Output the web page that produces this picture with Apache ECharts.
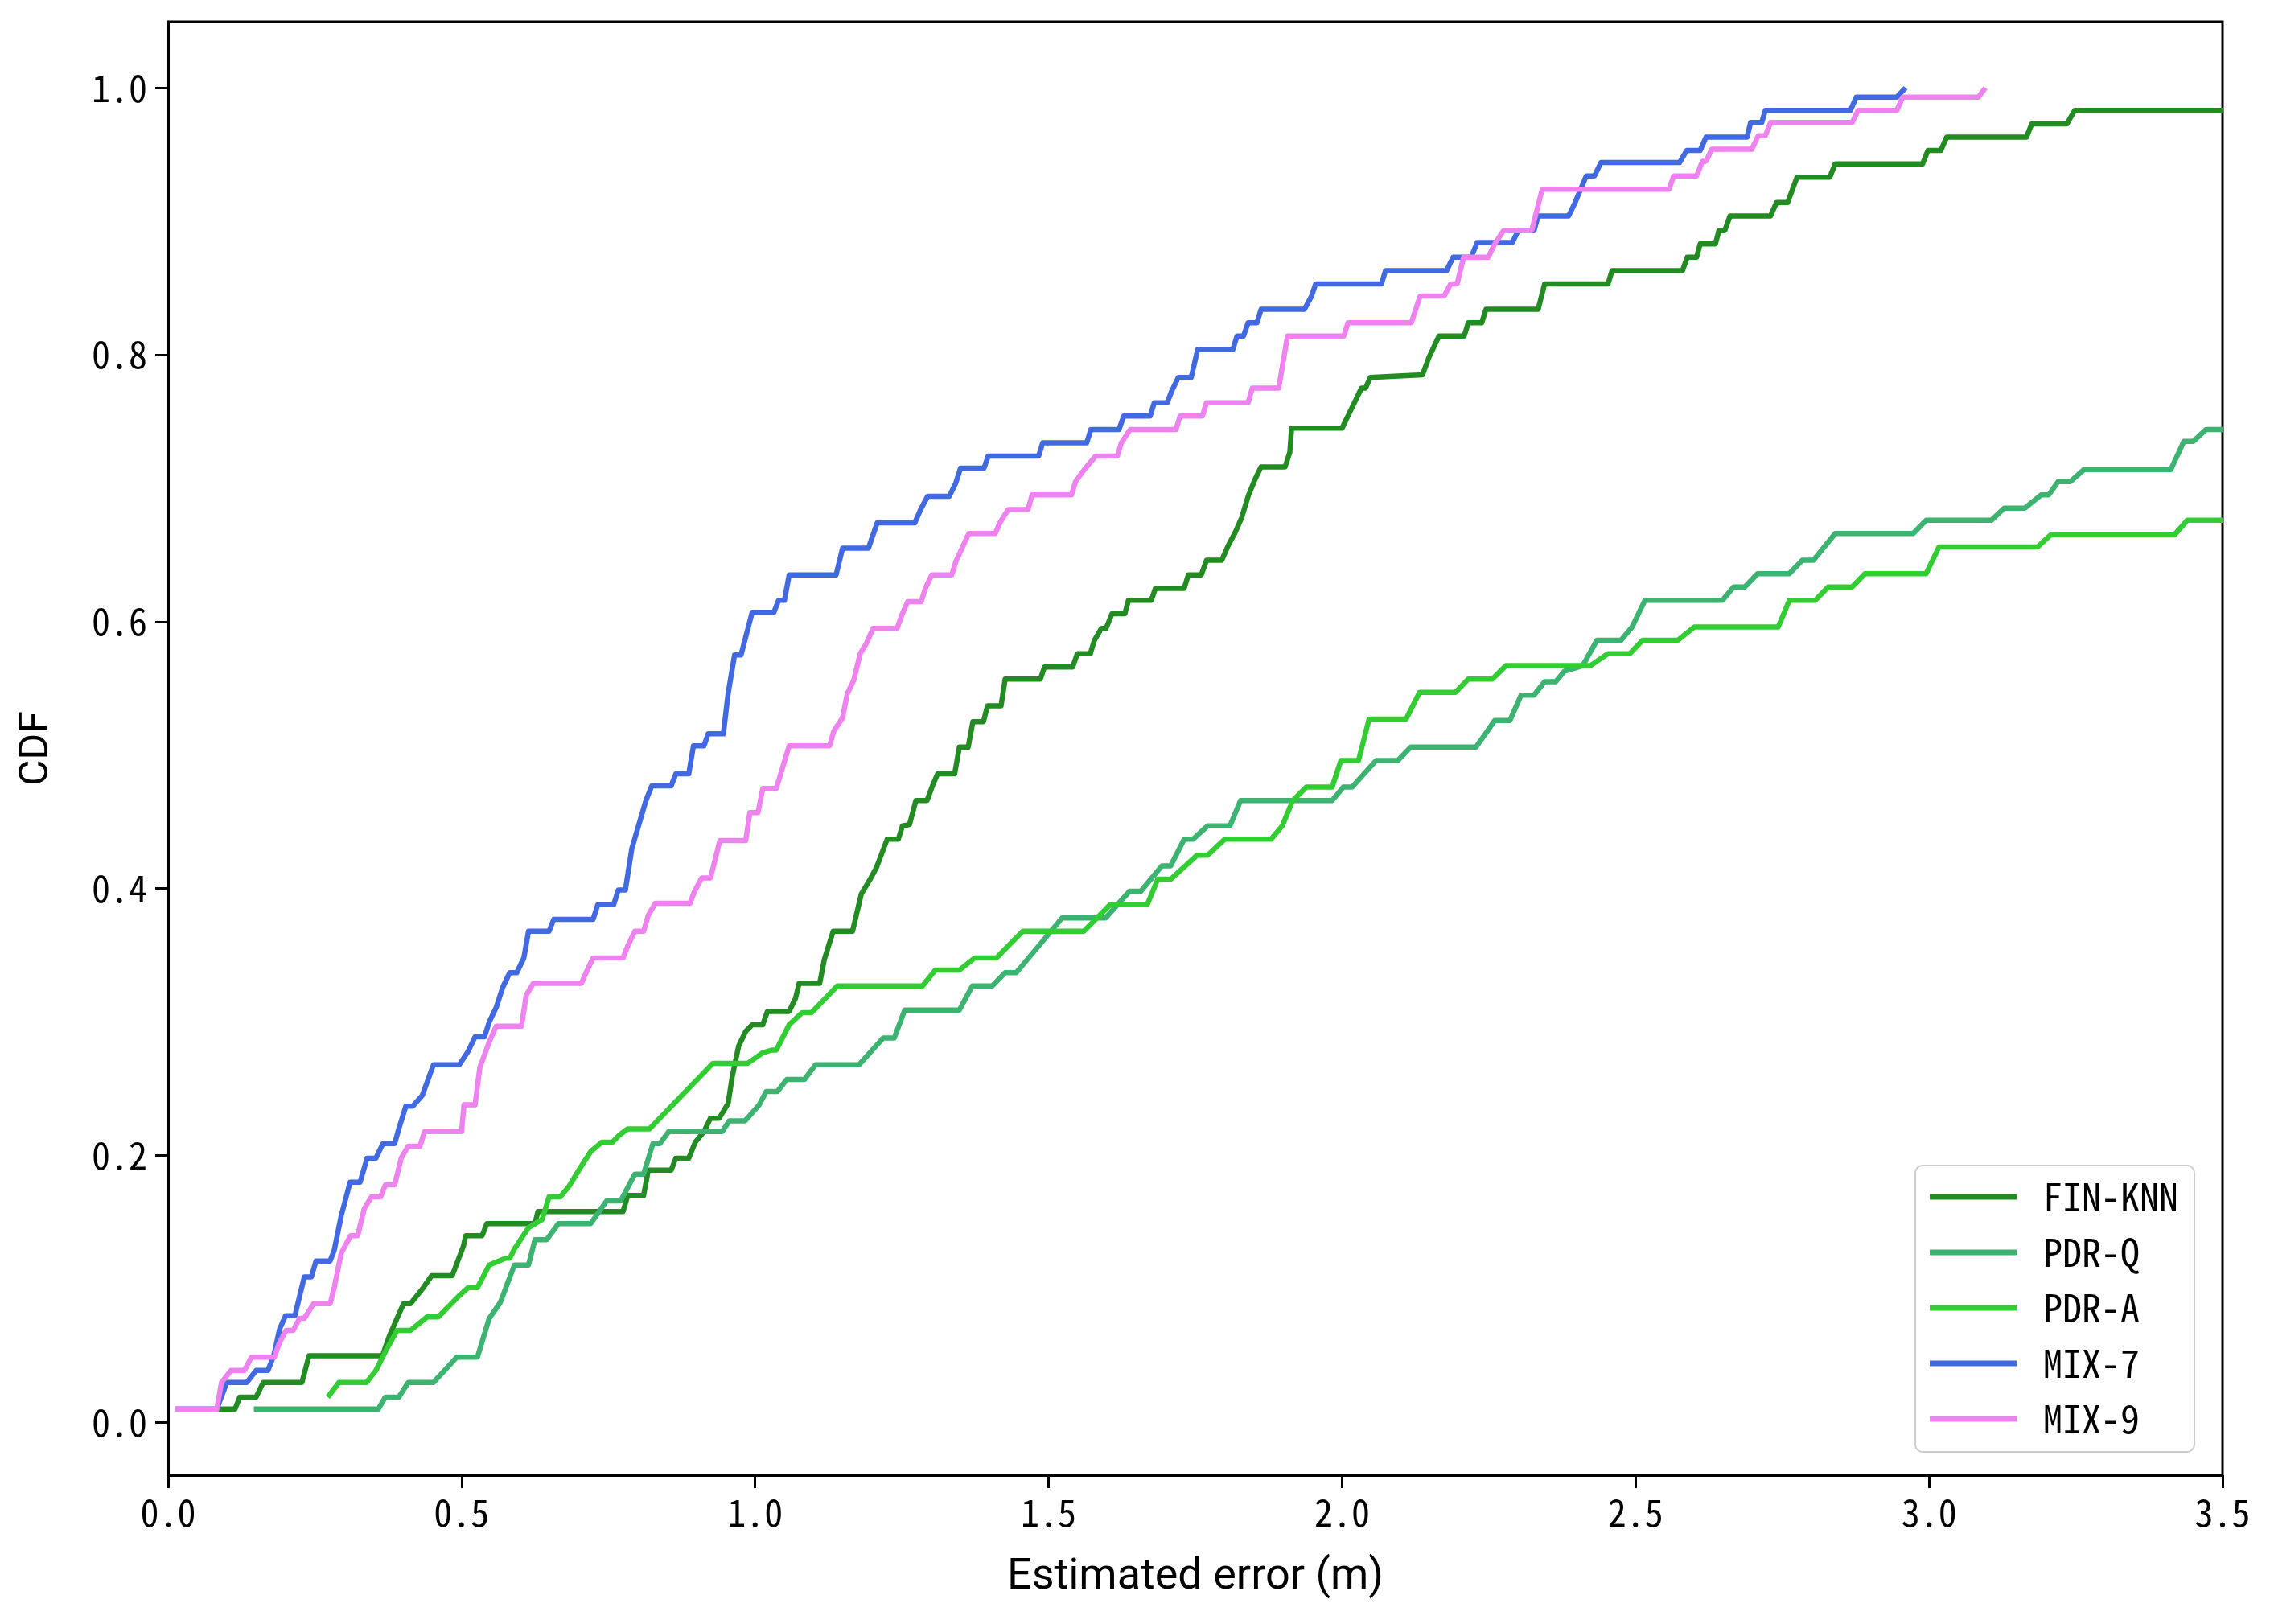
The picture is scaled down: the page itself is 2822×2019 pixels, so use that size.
<!DOCTYPE html>
<html>
<head>
<meta charset="utf-8">
<script src="https://cdn.jsdelivr.net/npm/echarts@6/dist/echarts.min.js"></script>
<style>
html,body{margin:0;padding:0;background:#fff;}
#chart{width:2822px;height:2019px;}
</style>
</head>
<body>
<div id="chart"></div>
<script>
// ---- data (x = estimated error in m, y = CDF) ----
const seriesNames = ['FIN-KNN', 'PDR-Q', 'PDR-A', 'MIX-7', 'MIX-9'];
const xTicks = [0, 0.5, 1.0, 1.5, 2.0, 2.5, 3.0, 3.5];
const yTicks = [0, 0.2, 0.4, 0.6, 0.8, 1.0];

const finKnn = [[0.083,0.01],[0.114,0.01],[0.122,0.019],[0.15,0.019],[0.162,0.03],[0.228,0.03],[0.24,0.05],[0.365,0.05],[0.378,0.066],[0.401,0.089],[0.413,0.089],[0.433,0.1],[0.449,0.11],[0.484,0.11],[0.503,0.132],[0.507,0.14],[0.535,0.14],[0.543,0.149],[0.625,0.149],[0.63,0.158],[0.775,0.158],[0.783,0.17],[0.81,0.17],[0.818,0.189],[0.857,0.189],[0.865,0.198],[0.887,0.198],[0.898,0.21],[0.913,0.218],[0.924,0.228],[0.939,0.228],[0.954,0.239],[0.961,0.259],[0.972,0.282],[0.984,0.293],[0.995,0.298],[1.013,0.298],[1.021,0.308],[1.058,0.308],[1.069,0.318],[1.075,0.329],[1.11,0.329],[1.118,0.347],[1.133,0.368],[1.166,0.368],[1.181,0.396],[1.196,0.407],[1.207,0.416],[1.225,0.437],[1.244,0.437],[1.251,0.447],[1.263,0.448],[1.274,0.466],[1.293,0.466],[1.303,0.478],[1.311,0.486],[1.34,0.486],[1.348,0.506],[1.363,0.506],[1.371,0.525],[1.389,0.525],[1.396,0.537],[1.419,0.537],[1.426,0.557],[1.486,0.557],[1.493,0.566],[1.541,0.566],[1.549,0.576],[1.571,0.576],[1.578,0.586],[1.59,0.595],[1.598,0.595],[1.608,0.606],[1.63,0.606],[1.636,0.616],[1.675,0.616],[1.682,0.625],[1.731,0.625],[1.738,0.635],[1.76,0.635],[1.769,0.646],[1.795,0.646],[1.806,0.657],[1.818,0.667],[1.829,0.678],[1.84,0.694],[1.851,0.706],[1.862,0.716],[1.903,0.716],[1.911,0.727],[1.914,0.745],[2.0,0.745],[2.011,0.755],[2.022,0.765],[2.033,0.775],[2.04,0.775],[2.048,0.783],[2.137,0.785],[2.148,0.798],[2.165,0.814],[2.208,0.814],[2.215,0.824],[2.238,0.824],[2.245,0.834],[2.334,0.834],[2.345,0.853],[2.453,0.853],[2.46,0.863],[2.58,0.863],[2.588,0.873],[2.604,0.873],[2.61,0.883],[2.636,0.883],[2.642,0.893],[2.652,0.893],[2.661,0.904],[2.73,0.904],[2.74,0.914],[2.759,0.914],[2.775,0.933],[2.831,0.933],[2.84,0.943],[2.989,0.943],[2.998,0.953],[3.02,0.953],[3.03,0.963],[3.166,0.963],[3.175,0.973],[3.235,0.973],[3.248,0.983],[3.5,0.983]];

const pdrQ = [[0.146,0.01],[0.358,0.01],[0.37,0.019],[0.393,0.019],[0.409,0.03],[0.452,0.03],[0.492,0.049],[0.527,0.049],[0.547,0.078],[0.566,0.09],[0.59,0.118],[0.614,0.118],[0.625,0.137],[0.645,0.137],[0.665,0.149],[0.72,0.149],[0.747,0.166],[0.771,0.166],[0.795,0.186],[0.81,0.186],[0.826,0.209],[0.838,0.209],[0.853,0.218],[0.944,0.218],[0.956,0.226],[0.983,0.226],[1.007,0.238],[1.019,0.248],[1.038,0.248],[1.054,0.257],[1.084,0.257],[1.103,0.268],[1.177,0.268],[1.218,0.288],[1.237,0.288],[1.255,0.309],[1.348,0.309],[1.37,0.327],[1.404,0.327],[1.426,0.337],[1.445,0.337],[1.523,0.378],[1.597,0.378],[1.638,0.398],[1.657,0.398],[1.693,0.417],[1.708,0.417],[1.731,0.437],[1.746,0.437],[1.771,0.447],[1.809,0.447],[1.827,0.466],[1.983,0.466],[2.002,0.476],[2.017,0.476],[2.058,0.496],[2.095,0.496],[2.117,0.506],[2.228,0.506],[2.249,0.519],[2.26,0.526],[2.286,0.526],[2.305,0.545],[2.327,0.545],[2.345,0.555],[2.364,0.555],[2.379,0.563],[2.41,0.567],[2.434,0.586],[2.475,0.586],[2.494,0.596],[2.516,0.616],[2.648,0.616],[2.667,0.626],[2.686,0.626],[2.708,0.636],[2.762,0.636],[2.784,0.646],[2.803,0.646],[2.84,0.666],[2.973,0.666],[2.995,0.676],[3.106,0.676],[3.128,0.685],[3.163,0.685],[3.191,0.695],[3.204,0.695],[3.22,0.705],[3.241,0.705],[3.264,0.714],[3.412,0.714],[3.434,0.735],[3.45,0.735],[3.472,0.744],[3.5,0.744]];

const pdrA = [[0.272,0.019],[0.291,0.03],[0.338,0.03],[0.354,0.039],[0.37,0.053],[0.39,0.069],[0.413,0.069],[0.441,0.079],[0.46,0.079],[0.496,0.095],[0.511,0.101],[0.527,0.101],[0.547,0.118],[0.575,0.123],[0.582,0.123],[0.59,0.13],[0.614,0.146],[0.637,0.152],[0.649,0.169],[0.668,0.169],[0.683,0.177],[0.701,0.19],[0.72,0.203],[0.739,0.21],[0.757,0.21],[0.768,0.215],[0.783,0.22],[0.82,0.22],[0.928,0.269],[0.987,0.269],[1.013,0.277],[1.028,0.279],[1.036,0.279],[1.058,0.298],[1.08,0.307],[1.096,0.307],[1.14,0.327],[1.285,0.327],[1.307,0.339],[1.348,0.339],[1.374,0.348],[1.411,0.348],[1.456,0.368],[1.56,0.368],[1.605,0.388],[1.668,0.388],[1.686,0.407],[1.708,0.407],[1.753,0.425],[1.771,0.425],[1.8,0.437],[1.879,0.437],[1.898,0.447],[1.916,0.466],[1.939,0.476],[1.983,0.476],[1.998,0.496],[2.028,0.496],[2.046,0.527],[2.109,0.527],[2.132,0.547],[2.193,0.547],[2.215,0.557],[2.256,0.557],[2.279,0.567],[2.423,0.567],[2.453,0.576],[2.49,0.576],[2.512,0.586],[2.572,0.586],[2.6,0.596],[2.743,0.596],[2.762,0.616],[2.806,0.616],[2.828,0.626],[2.869,0.626],[2.891,0.636],[2.995,0.636],[3.017,0.656],[3.185,0.656],[3.207,0.665],[3.418,0.665],[3.44,0.676],[3.5,0.676]];

const mix7 = [[0.012,0.01],[0.083,0.01],[0.1,0.03],[0.134,0.03],[0.15,0.039],[0.17,0.039],[0.18,0.05],[0.19,0.07],[0.2,0.08],[0.216,0.08],[0.232,0.109],[0.244,0.109],[0.252,0.121],[0.276,0.121],[0.283,0.129],[0.295,0.155],[0.31,0.18],[0.327,0.18],[0.339,0.198],[0.354,0.198],[0.366,0.209],[0.386,0.209],[0.393,0.22],[0.405,0.237],[0.417,0.237],[0.433,0.245],[0.452,0.268],[0.496,0.268],[0.511,0.278],[0.523,0.289],[0.539,0.289],[0.547,0.3],[0.559,0.311],[0.57,0.326],[0.582,0.337],[0.594,0.337],[0.606,0.348],[0.614,0.368],[0.649,0.368],[0.657,0.377],[0.724,0.377],[0.732,0.388],[0.759,0.388],[0.767,0.399],[0.779,0.399],[0.79,0.43],[0.814,0.466],[0.824,0.477],[0.857,0.477],[0.865,0.486],[0.887,0.486],[0.895,0.507],[0.913,0.507],[0.92,0.516],[0.946,0.516],[0.954,0.546],[0.965,0.575],[0.976,0.575],[0.995,0.607],[1.032,0.607],[1.04,0.616],[1.05,0.616],[1.058,0.635],[1.138,0.635],[1.149,0.655],[1.193,0.655],[1.208,0.674],[1.272,0.674],[1.282,0.684],[1.294,0.694],[1.331,0.694],[1.342,0.704],[1.35,0.715],[1.39,0.715],[1.397,0.724],[1.483,0.724],[1.49,0.734],[1.565,0.734],[1.572,0.744],[1.62,0.744],[1.628,0.754],[1.673,0.754],[1.68,0.764],[1.702,0.764],[1.71,0.773],[1.721,0.783],[1.743,0.783],[1.754,0.804],[1.814,0.804],[1.821,0.814],[1.832,0.814],[1.84,0.824],[1.855,0.824],[1.862,0.834],[1.936,0.834],[1.948,0.844],[1.955,0.853],[2.067,0.853],[2.074,0.863],[2.178,0.863],[2.189,0.873],[2.22,0.873],[2.23,0.884],[2.29,0.884],[2.3,0.893],[2.327,0.893],[2.334,0.904],[2.386,0.904],[2.397,0.914],[2.416,0.934],[2.43,0.934],[2.441,0.944],[2.575,0.944],[2.587,0.953],[2.61,0.953],[2.62,0.963],[2.69,0.963],[2.696,0.974],[2.715,0.974],[2.721,0.983],[2.866,0.983],[2.876,0.993],[2.945,0.993],[2.96,1.0]];

const mix9 = [[0.012,0.01],[0.083,0.01],[0.091,0.03],[0.107,0.039],[0.13,0.039],[0.142,0.049],[0.181,0.049],[0.189,0.059],[0.201,0.069],[0.213,0.069],[0.224,0.078],[0.232,0.078],[0.248,0.089],[0.276,0.089],[0.283,0.101],[0.295,0.127],[0.311,0.14],[0.323,0.14],[0.334,0.16],[0.346,0.169],[0.362,0.169],[0.37,0.178],[0.386,0.178],[0.397,0.198],[0.409,0.207],[0.429,0.207],[0.437,0.218],[0.5,0.218],[0.504,0.238],[0.523,0.238],[0.531,0.266],[0.547,0.285],[0.559,0.297],[0.602,0.297],[0.61,0.32],[0.622,0.329],[0.704,0.329],[0.712,0.337],[0.724,0.348],[0.775,0.348],[0.783,0.357],[0.795,0.368],[0.81,0.368],[0.818,0.38],[0.83,0.389],[0.889,0.389],[0.897,0.398],[0.909,0.408],[0.924,0.408],[0.94,0.436],[0.984,0.436],[0.991,0.457],[1.005,0.457],[1.013,0.475],[1.036,0.475],[1.043,0.485],[1.058,0.507],[1.127,0.507],[1.134,0.518],[1.149,0.528],[1.157,0.546],[1.168,0.556],[1.179,0.576],[1.19,0.584],[1.201,0.595],[1.242,0.595],[1.25,0.605],[1.26,0.615],[1.283,0.615],[1.29,0.625],[1.301,0.635],[1.335,0.635],[1.342,0.645],[1.364,0.666],[1.409,0.666],[1.417,0.674],[1.431,0.684],[1.465,0.684],[1.472,0.695],[1.539,0.695],[1.546,0.705],[1.561,0.714],[1.58,0.724],[1.617,0.724],[1.624,0.734],[1.639,0.744],[1.717,0.744],[1.724,0.754],[1.762,0.754],[1.769,0.764],[1.84,0.764],[1.847,0.775],[1.892,0.775],[1.907,0.814],[2.003,0.814],[2.01,0.824],[2.118,0.824],[2.133,0.844],[2.174,0.844],[2.185,0.853],[2.196,0.853],[2.207,0.873],[2.249,0.873],[2.26,0.883],[2.275,0.893],[2.323,0.893],[2.341,0.924],[2.557,0.924],[2.565,0.934],[2.604,0.934],[2.614,0.945],[2.62,0.945],[2.63,0.954],[2.698,0.954],[2.709,0.964],[2.721,0.964],[2.73,0.974],[2.869,0.974],[2.879,0.983],[2.945,0.983],[2.955,0.993],[3.084,0.993],[3.096,1.0]];

const seriesData = [finKnn, pdrQ, pdrA, mix7, mix9];
const seriesColors = ['#228B22', '#3CB371', '#32CD32', '#4169E1', '#EE82EE'];

// ---- chart ----
const monoFont = '"Noto Sans Mono CJK SC", "DejaVu Sans Mono", monospace';
const sansFont = 'Roboto, "Noto Sans", sans-serif';
const chart = echarts.init(document.getElementById('chart'), null, {renderer: 'canvas'});

chart.setOption({
  animation: false,
  backgroundColor: '#ffffff',
  grid: {
    left: 209, right: 59, top: 27, bottom: 185,
    containLabel: false,
    outerBoundsMode: 'none',
    show: true,
    borderColor: '#000000',
    borderWidth: 3,
    backgroundColor: 'transparent'
  },
  legend: {
    left: 2381,
    top: 1449,
    orient: 'vertical',
    data: seriesNames,
    icon: 'rect',
    itemWidth: 108,
    itemHeight: 7,
    itemGap: 21,
    padding: [15, 20, 17, 18],
    backgroundColor: 'rgba(255,255,255,0.8)',
    borderColor: '#cccccc',
    borderWidth: 2,
    borderRadius: 9,
    textStyle: {
      fontFamily: monoFont,
      fontSize: 48,
      lineHeight: 46,
      color: '#000000',
      padding: [0, 0, 0, 28]
    }
  },
  xAxis: {
    type: 'value',
    min: 0,
    max: 3.5,
    interval: 0.5,
    name: 'Estimated error (m)',
    nameLocation: 'middle',
    nameGap: 100,
    nameTextStyle: { fontFamily: sansFont, fontSize: 54, color: '#000000' },
    axisLine: { show: true, onZero: false, lineStyle: { color: '#000000', width: 3 } },
    axisTick: { show: true, length: 16, lineStyle: { color: '#000000', width: 3 } },
    axisLabel: {
      margin: 24,
      fontFamily: monoFont,
      fontSize: 46,
      color: '#000000',
      formatter: v => v.toFixed(1)
    },
    splitLine: { show: false }
  },
  yAxis: {
    type: 'value',
    min: -0.0395,
    max: 1.0495,
    name: 'CDF',
    nameLocation: 'middle',
    nameGap: 138,
    nameTextStyle: { fontFamily: sansFont, fontSize: 50, color: '#000000' },
    axisLine: { show: true, onZero: false, lineStyle: { color: '#000000', width: 3 } },
    axisTick: { show: true, length: 16, customValues: yTicks, lineStyle: { color: '#000000', width: 3 } },
    axisLabel: {
      margin: 26,
      fontFamily: monoFont,
      fontSize: 46,
      color: '#000000',
      customValues: yTicks,
      formatter: v => v.toFixed(1)
    },
    splitLine: { show: false }
  },
  series: seriesNames.map((name, i) => ({
    name: name,
    type: 'line',
    data: seriesData[i],
    symbol: 'none',
    showSymbol: false,
    color: seriesColors[i],
    lineStyle: { color: seriesColors[i], width: 6.5, join: 'round', cap: 'butt' },
    itemStyle: { color: seriesColors[i] },
    z: 2 + i,
    clip: true
  }))
});
</script>
</body>
</html>
